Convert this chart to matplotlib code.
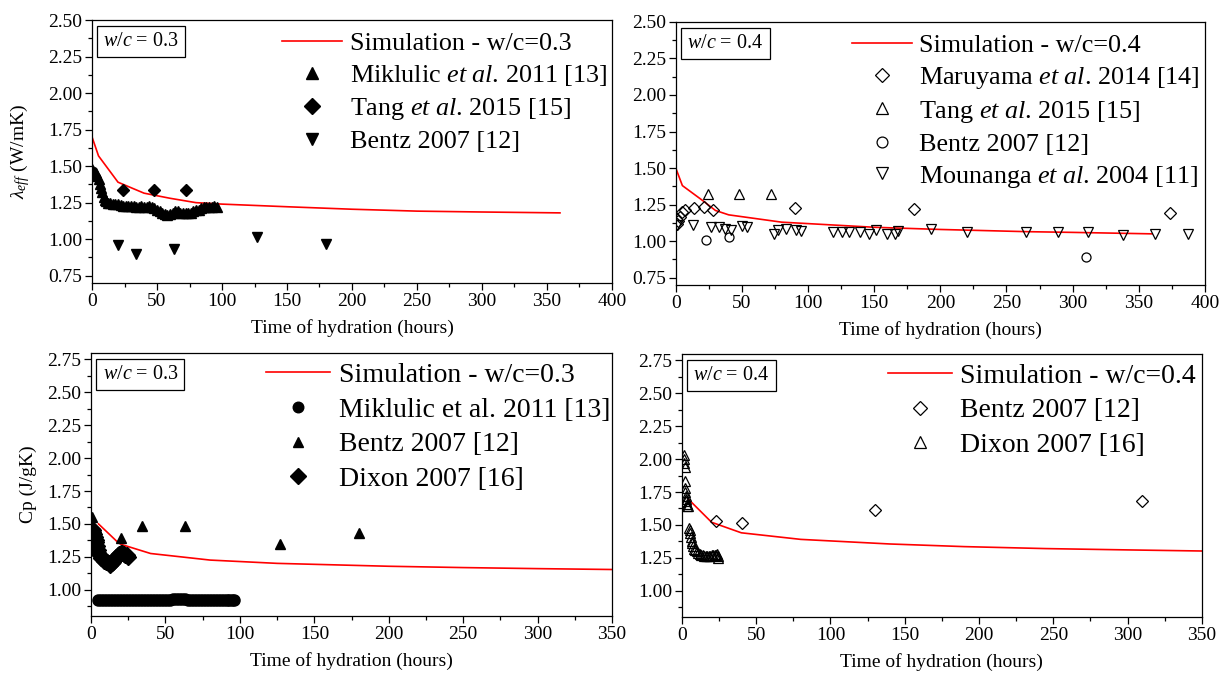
import matplotlib
matplotlib.use("Agg")
import matplotlib.pyplot as plt
from matplotlib.ticker import MultipleLocator, FormatStrFormatter

plt.rcParams["font.family"] = ["Liberation Serif", "DejaVu Serif"]
plt.rcParams["mathtext.fontset"] = "custom"
plt.rcParams["mathtext.rm"] = "Liberation Serif"
plt.rcParams["mathtext.it"] = "Liberation Serif:italic"

# ---- panel 1: conductivity, w/c = 0.3 ----
sim_k03_t = [0, 5, 20, 40, 60, 80, 100, 150, 200, 250, 300, 360]
sim_k03_v = [1.70, 1.57, 1.39, 1.315, 1.28, 1.25, 1.24, 1.222, 1.205, 1.192, 1.186, 1.18]
mik_k03_t = [0, 1, 2, 3, 4, 5, 6, 7, 8, 9, 10, 11, 12, 14, 16, 18, 20, 22, 24, 26,
             28, 30, 32, 34, 36, 38, 40, 42, 44, 46, 48, 50, 52, 54, 56, 58, 60, 62,
             64, 66, 68, 70, 72, 74, 76, 78, 80, 82, 84, 86, 88, 90, 92, 94, 96]
mik_k03_v = [1.48, 1.47, 1.46, 1.45, 1.43, 1.41, 1.38, 1.35, 1.32, 1.29, 1.27, 1.26,
             1.25, 1.25, 1.24, 1.24, 1.24, 1.235, 1.23, 1.23, 1.225, 1.225, 1.225, 1.22,
             1.22, 1.225, 1.22, 1.22, 1.225, 1.22, 1.21, 1.20, 1.19, 1.18, 1.17, 1.165,
             1.17, 1.18, 1.19, 1.19, 1.18, 1.18, 1.18, 1.18, 1.18, 1.19, 1.20, 1.20,
             1.21, 1.22, 1.22, 1.22, 1.22, 1.225, 1.22]
tang_k03_t = [24, 48, 72]
tang_k03_v = [1.335, 1.34, 1.34]
bentz_k03_t = [20, 34, 63, 127, 180]
bentz_k03_v = [0.96, 0.90, 0.93, 1.017, 0.967]

# ---- panel 2: conductivity, w/c = 0.4 ----
sim_k04_t = [0, 5, 20, 30, 40, 80, 150, 200, 265, 300, 360]
sim_k04_v = [1.50, 1.38, 1.28, 1.21, 1.18, 1.13, 1.095, 1.08, 1.065, 1.06, 1.05]
maru_k04_t = [1, 2, 3, 5, 7, 14, 21, 28, 90, 180, 374]
maru_k04_v = [1.12, 1.14, 1.165, 1.20, 1.215, 1.225, 1.235, 1.215, 1.225, 1.22, 1.195]
tang_k04_t = [24, 48, 72]
tang_k04_v = [1.32, 1.32, 1.32]
bentz_k04_t = [23, 40, 310]
bentz_k04_v = [1.005, 1.03, 0.89]
moun_k04_t = [1, 13, 27, 33, 37, 42, 50, 54, 74, 77, 83, 91, 95, 119, 126, 131, 139,
              146, 151, 160, 166, 168, 193, 220, 265, 289, 312, 338, 362, 387]
moun_k04_v = [1.11, 1.11, 1.10, 1.095, 1.08, 1.075, 1.105, 1.095, 1.048, 1.075, 1.08,
              1.078, 1.07, 1.06, 1.06, 1.06, 1.06, 1.05, 1.075, 1.052, 1.048, 1.07,
              1.08, 1.064, 1.06, 1.06, 1.06, 1.043, 1.048, 1.048]

# ---- panel 3: heat capacity, w/c = 0.3 ----
sim_c03_t = [5, 18, 20, 40, 80, 125, 200, 250, 300, 360]
sim_c03_v = [1.50, 1.36, 1.345, 1.275, 1.225, 1.20, 1.178, 1.168, 1.16, 1.152]
mik_c03_t = [5, 7, 9, 11, 13, 15, 17, 19, 21, 23, 25, 27, 29, 31, 33, 35, 37, 39, 41,
             43, 45, 47, 49, 51, 53, 55, 57, 59, 61, 63, 65, 67, 69, 71, 73, 75, 77, 79,
             81, 83, 85, 87, 89, 91, 93, 95, 96]
mik_c03_v = [0.92, 0.92, 0.92, 0.92, 0.92, 0.92, 0.92, 0.92, 0.92, 0.92, 0.92, 0.92,
             0.92, 0.922, 0.922, 0.922, 0.922, 0.922, 0.922, 0.922, 0.922, 0.922, 0.922,
             0.924, 0.924, 0.926, 0.928, 0.93, 0.928, 0.926, 0.924, 0.924, 0.922, 0.922,
             0.922, 0.922, 0.922, 0.922, 0.922, 0.922, 0.922, 0.922, 0.92, 0.92, 0.92,
             0.92, 0.92]
bentz_c03_t = [0.5, 20, 34, 63, 127, 180]
bentz_c03_v = [1.55, 1.39, 1.485, 1.485, 1.345, 1.43]
dixon_c03_t = [0.5, 1, 1.5, 2, 2.5, 3, 3.5, 4, 4.5, 5, 6, 7, 8, 9, 10, 11, 12, 13, 14,
               15, 16, 17, 18, 19, 20, 21, 22, 23, 24, 25]
dixon_c03_v = [1.46, 1.45, 1.44, 1.42, 1.40, 1.38, 1.36, 1.33, 1.30, 1.28, 1.26, 1.24,
               1.23, 1.22, 1.21, 1.21, 1.20, 1.19, 1.20, 1.21, 1.23, 1.25, 1.26, 1.27,
               1.28, 1.28, 1.27, 1.26, 1.26, 1.25]

# ---- panel 4: heat capacity, w/c = 0.4 ----
sim_c04_t = [4, 20, 40, 80, 140, 190, 245, 300, 360]
sim_c04_v = [1.70, 1.52, 1.44, 1.39, 1.355, 1.335, 1.32, 1.31, 1.30]
bentz_c04_t = [23, 40.5, 130, 310]
bentz_c04_v = [1.53, 1.516, 1.61, 1.682]
dixon_c04_t = [1.5, 1.6, 1.7, 1.8, 2.0, 2.2, 2.4, 2.6, 2.8, 3.0, 3.3, 3.6, 4.0, 5.0,
               5.3, 5.6, 6.0, 6.5, 7.0, 7.5, 8.0, 9.0, 10, 11, 12, 13, 14, 15, 16, 17,
               18, 19, 20, 21, 22, 23, 23.5, 24, 24]
dixon_c04_v = [2.03, 2.00, 1.97, 1.94, 1.83, 1.78, 1.75, 1.72, 1.70, 1.68, 1.66, 1.64,
               1.64, 1.48, 1.46, 1.44, 1.41, 1.38, 1.36, 1.34, 1.32, 1.31, 1.30, 1.29,
               1.28, 1.275, 1.27, 1.265, 1.26, 1.26, 1.26, 1.265, 1.27, 1.27, 1.275,
               1.27, 1.28, 1.26, 1.25]

RED = "#ff0000"
TICK_FS = 14


def style(ax, xmax, ylo, yhi):
    ax.set_xlim(0, xmax)
    ax.set_ylim(ylo, yhi)
    ax.xaxis.set_major_locator(MultipleLocator(50))
    ax.xaxis.set_minor_locator(MultipleLocator(25))
    ax.yaxis.set_major_locator(MultipleLocator(0.25))
    ax.yaxis.set_minor_locator(MultipleLocator(0.125))
    ax.yaxis.set_major_formatter(FormatStrFormatter("%.2f"))
    ax.tick_params(which="both", direction="out", top=False, right=False,
                   labelsize=TICK_FS, width=0.9)
    ax.tick_params(which="major", length=5, pad=2)
    ax.tick_params(which="minor", length=3)
    for s in ax.spines.values():
        s.set_linewidth(0.9)
    ax.set_xlabel("Time of hydration (hours)", fontsize=TICK_FS, labelpad=7)


def wc_box(ax, txt):
    ax.text(0.022, 0.955, r"$\mathit{w/c}$ = " + txt, transform=ax.transAxes,
            ha="left", va="top", fontsize=14.5,
            bbox=dict(boxstyle="square,pad=0.3", fc="white", ec="black", lw=0.9))


def legend(ax, fs, spacing, mscale, dx, dy):
    ax.legend(loc="upper right", bbox_to_anchor=(1 + dx, 1 + dy), frameon=False,
              fontsize=fs, handlelength=2.3, handletextpad=0.3,
              labelspacing=spacing, borderaxespad=0.15, borderpad=0.3,
              markerscale=mscale)


fig = plt.figure(figsize=(12.22, 6.73), dpi=100)
ax1 = fig.add_axes([0.0753, 0.5795, 0.4255, 0.3907])
ax2 = fig.add_axes([0.553, 0.5765, 0.433, 0.391])
ax3 = fig.add_axes([0.0745, 0.0847, 0.4264, 0.391])
ax4 = fig.add_axes([0.558, 0.0832, 0.4255, 0.391])

# panel 1
ax1.plot(sim_k03_t, sim_k03_v, color=RED, lw=1.2, label="Simulation - w/c=0.3")
ax1.plot(mik_k03_t, mik_k03_v, "^", color="black", ms=7, ls="none",
         label=r"Miklulic $\mathit{et\ al}$. 2011 [13]")
ax1.plot(tang_k03_t, tang_k03_v, "D", color="black", ms=6.5, ls="none",
         label=r"Tang $\mathit{et\ al}$. 2015 [15]")
ax1.plot(bentz_k03_t, bentz_k03_v, "v", color="black", ms=7.5, ls="none",
         label="Bentz 2007 [12]")
style(ax1, 400, 0.70, 2.50)
ax1.set_ylabel(r"$\lambda_{\mathit{eff}}$ (W/mK)", fontsize=TICK_FS, labelpad=12)
wc_box(ax1, "0.3")
legend(ax1, 18.8, 0.3, 1.2, 0.013, 0.0)

# panel 2
open_kw = dict(color="black", mfc="none", mew=0.9, ls="none")
ax2.plot(sim_k04_t, sim_k04_v, color=RED, lw=1.2, label="Simulation - w/c=0.4")
ax2.plot(maru_k04_t, maru_k04_v, "D", ms=6, label=r"Maruyama $\mathit{et\ al}$. 2014 [14]", **open_kw)
ax2.plot(tang_k04_t, tang_k04_v, "^", ms=7, label=r"Tang $\mathit{et\ al}$. 2015 [15]", **open_kw)
ax2.plot(bentz_k04_t, bentz_k04_v, "o", ms=6.5, label="Bentz 2007 [12]", **open_kw)
ax2.plot(moun_k04_t, moun_k04_v, "v", ms=7, label=r"Mounanga $\mathit{et\ al}$. 2004 [11]", **open_kw)
style(ax2, 400, 0.70, 2.50)
wc_box(ax2, "0.4")
legend(ax2, 18.8, 0.3, 1.2, 0.013, 0.0)

# panel 3
ax3.plot(sim_c03_t, sim_c03_v, color=RED, lw=1.2, label="Simulation - w/c=0.3")
ax3.plot(mik_c03_t, mik_c03_v, "o", color="black", ms=8, ls="none",
         label="Miklulic et al. 2011 [13]")
ax3.plot(bentz_c03_t, bentz_c03_v, "^", color="black", ms=7.5, ls="none",
         label="Bentz 2007 [12]")
ax3.plot(dixon_c03_t, dixon_c03_v, "D", color="black", ms=8.5, ls="none",
         label="Dixon 2007 [16]")
style(ax3, 350, 0.80, 2.80)
ax3.set_ylabel("Cp (J/gK)", fontsize=TICK_FS, labelpad=7)
wc_box(ax3, "0.3")
legend(ax3, 20, 0.33, 0.95, 0.02, 0.01)

# panel 4
ax4.plot(sim_c04_t, sim_c04_v, color=RED, lw=1.2, label="Simulation - w/c=0.4")
ax4.plot(bentz_c04_t, bentz_c04_v, "D", ms=6, label="Bentz 2007 [12]", **open_kw)
ax4.plot(dixon_c04_t, dixon_c04_v, "^", ms=7.5, label="Dixon 2007 [16]", **open_kw)
style(ax4, 350, 0.80, 2.80)
wc_box(ax4, "0.4")
legend(ax4, 20, 0.33, 1.15, 0.012, 0.012)

fig.savefig("out.png", dpi=100)
